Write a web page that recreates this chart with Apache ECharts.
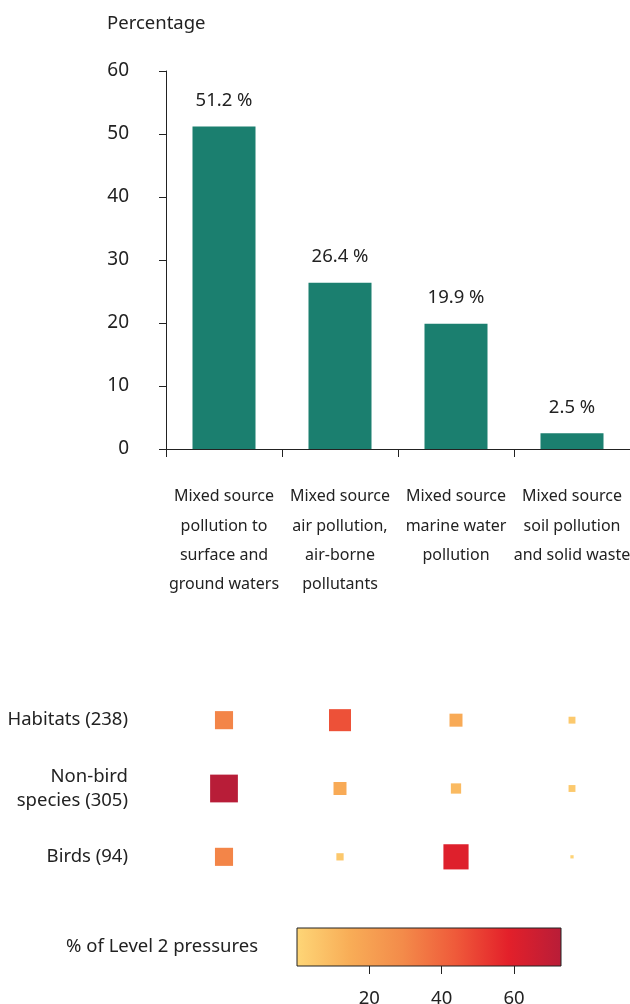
<!DOCTYPE html>
<html>
<head>
<meta charset="utf-8">
<script src="https://cdn.jsdelivr.net/npm/echarts@6/dist/echarts.min.js"></script>
<style>html,body{margin:0;padding:0;background:#fff;}#c{width:630px;height:1004px;}</style>
</head>
<body>
<div id="c"></div>
<script>
const categories = [
  'Mixed source\npollution to\nsurface and\nground waters',
  'Mixed source\nair pollution,\nair-borne\npollutants',
  'Mixed source\nmarine water\npollution',
  'Mixed source\nsoil pollution\nand solid waste'
];
const barValues = [51.2, 26.4, 19.9, 2.5];
const yTicks = { min: 0, max: 60, interval: 10 };
const groups = ['Habitats (238)', 'Non-bird\nspecies (305)', 'Birds (94)'];
const habitats = [31, 46, 16, 4.5];
const nonBird = [73, 16, 10, 4.5];
const birds = [31, 5, 60, 1];
const colorbarTicks = [20, 40, 60];
const colorbarRange = [0, 73];
const colorbarTitle = '% of Level 2 pressures';
const colorScale = ['#fed677', '#f8ad57', '#f38b4a', '#ef5a3a', '#e3202a', '#b81d38'];

const FONT = 'Noto Sans';
const TXT = '#222';
const FS = 18.5;

const heatData = [];
[habitats, nonBird, birds].forEach((row, r) => row.forEach((v, c) => heatData.push([c, r, v])));

const gradient = new echarts.graphic.LinearGradient(0, 0, 1, 0,
  colorScale.map((c, i) => ({ offset: i / (colorScale.length - 1), color: c })));

const chart = echarts.init(document.getElementById('c'), null, { renderer: 'canvas' });
chart.setOption({
  animation: false,
  textStyle: { fontFamily: FONT, color: TXT },
  title: { text: 'Percentage', left: 102, top: 9, textStyle: { fontFamily: FONT, fontSize: FS, fontWeight: 'normal', color: TXT } },
  grid: [
    { left: 166, width: 464, top: 71, height: 378, outerBoundsMode: 'none', containLabel: false },
    { left: 166, width: 464, top: 686, height: 205, outerBoundsMode: 'none', containLabel: false },
    { left: 297, top: 928, width: 264, height: 38, outerBoundsMode: 'none', containLabel: false,
      show: true, borderColor: '#222', borderWidth: 1, backgroundColor: gradient }
  ],
  xAxis: [
    { gridIndex: 0, type: 'category', data: categories,
      axisLine: { lineStyle: { color: '#222', width: 1 } },
      axisTick: { show: true, length: 8, lineStyle: { color: '#222' } },
      axisLabel: { interval: 0, margin: 33, fontSize: 16, lineHeight: 29.4, color: TXT, fontFamily: FONT } },
    { gridIndex: 1, type: 'category', data: categories, show: false },
    { gridIndex: 2, type: 'value', min: colorbarRange[0], max: colorbarRange[1], interval: 20,
      axisLine: { show: false }, splitLine: { show: false },
      axisTick: { show: true, length: 8, lineStyle: { color: '#222' }, customValues: colorbarTicks },
      axisLabel: { margin: 23, fontSize: FS, color: TXT, fontFamily: FONT, customValues: colorbarTicks } }
  ],
  yAxis: [
    { gridIndex: 0, type: 'value', min: yTicks.min, max: yTicks.max, interval: yTicks.interval,
      axisLine: { show: true, lineStyle: { color: '#222' } },
      axisTick: { show: true, length: 7, lineStyle: { color: '#222' } },
      splitLine: { show: false },
      axisLabel: { margin: 37, fontSize: 19, color: TXT, fontFamily: FONT } },
    { gridIndex: 1, type: 'category', data: groups, inverse: true,
      axisLine: { show: false }, axisTick: { show: false },
      axisLabel: { margin: 38, fontSize: FS, lineHeight: 24, color: TXT, fontFamily: FONT, align: 'right' } },
    { gridIndex: 2, type: 'category', data: [colorbarTitle],
      axisLine: { show: false }, axisTick: { show: false },
      axisLabel: { margin: 39, fontSize: FS, color: TXT, fontFamily: FONT } }
  ],
  visualMap: {
    type: 'continuous', show: false, seriesIndex: 1, min: colorbarRange[0], max: colorbarRange[1],
    inRange: { color: colorScale }
  },
  series: [
    { type: 'bar', xAxisIndex: 0, yAxisIndex: 0, data: barValues, barWidth: 63,
      itemStyle: { color: '#1b7f6f' },
      label: { show: true, position: 'top', distance: 16, fontSize: FS, color: TXT, fontFamily: FONT, formatter: p => p.value + ' %' } },
    { type: 'scatter', xAxisIndex: 1, yAxisIndex: 1, data: heatData, symbol: 'rect',
      itemStyle: { opacity: 1 },
      symbolSize: d => 3.25 * Math.sqrt(d[2]) }
  ]
});
</script>
</body>
</html>
